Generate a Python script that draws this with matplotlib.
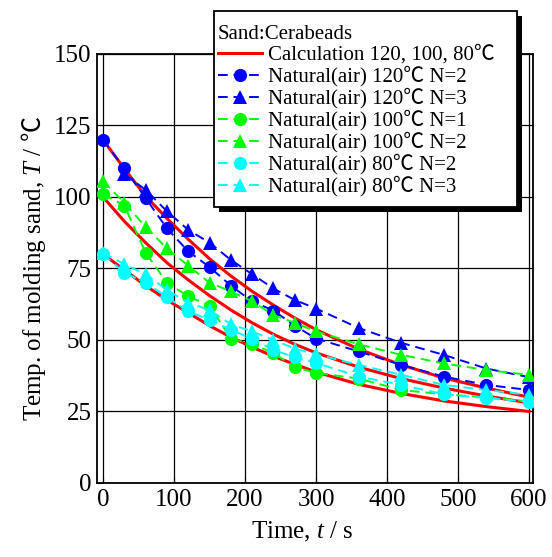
import matplotlib
matplotlib.use('Agg')
import matplotlib.pyplot as plt
from matplotlib.lines import Line2D
from matplotlib.patches import Rectangle

plt.rcParams['font.family'] = ['Liberation Serif', 'Noto Sans CJK JP']
plt.rcParams['mathtext.fontset'] = 'custom'
plt.rcParams['mathtext.rm'] = 'Liberation Serif'
plt.rcParams['mathtext.it'] = 'Liberation Serif:italic'
plt.rcParams['mathtext.sf'] = 'Noto Sans CJK JP'

# time axis (s)
t = [0, 30, 60, 90, 120, 150, 180, 210, 240, 270, 300, 360, 420, 480, 540, 600]
t_b3 = t[1:]

# calculation curves
calc_120 = [120, 109.9, 100.3, 92.5, 85.2, 78.4, 72.4, 67, 62.2, 57.7, 53.6, 46.8, 41.3, 36.7, 33.2, 30]
calc_100 = [100, 91.5, 84, 77, 71, 65.5, 60.5, 56, 52, 48.5, 45.5, 40.5, 36.5, 33.2, 30.4, 28]
calc_80 = [80, 74.5, 69, 64, 59.5, 55, 51, 47.5, 44.3, 41.5, 38.8, 34.5, 31.3, 28.7, 26.7, 25]

# measured, natural (air) cooling
nat_120_n2 = [120, 110, 99.6, 89, 81, 75.5, 69, 63.5, 60.3, 55, 50.5, 46, 41.3, 37.2, 34.3, 32.5]
nat_120_n3 = [108, 102.5, 95, 88.5, 84, 78, 73, 68, 64, 61, 54.2, 49, 44.8, 40, 37]
nat_100_n1 = [101, 97, 80.5, 70, 65.3, 62, 50.5, 48.5, 45.5, 40.5, 38.5, 36.5, 32.5, 31, 30, 28.5]
nat_100_n2 = [105.5, 98, 89.5, 82, 76, 70, 67, 63.5, 58.7, 56, 53, 48.5, 44.8, 41.8, 39.5, 37.8]
nat_80_n2 = [80, 73.5, 70, 65, 60, 57, 53.5, 50.5, 46.5, 44, 42, 37.2, 34.3, 31, 29.7, 28.4]
nat_80_n3 = [80.5, 76.5, 73, 67.5, 63, 60.5, 55.5, 53, 50, 47, 45, 41.3, 37.8, 34.3, 32.5, 30.8]

labels = ['Calculation 120, 100, 80\u2103',
          'Natural(air) 120\u2103 N=2', 'Natural(air) 120\u2103 N=3',
          'Natural(air) 100\u2103 N=1', 'Natural(air) 100\u2103 N=2',
          'Natural(air) 80\u2103 N=2', 'Natural(air) 80\u2103 N=3']

W, H = 552, 557
fig = plt.figure(figsize=(W / 100, H / 100), dpi=100)
ax = fig.add_axes([0.1757, 0.1329, 0.7899, 0.7702])

dash = (0, (5, 3))
red = '#ff0000'
blue = '#0000ff'
green = '#00ff00'
cyan = '#00ffff'
ms = 9.5

for y in (calc_120, calc_100, calc_80):
    ax.plot(t, y, color=red, lw=2.2, zorder=2)

# triangles drawn under circles of the same colour
series = [
    (t_b3, nat_120_n3, blue, '^'), (t, nat_120_n2, blue, 'o'),
    (t, nat_100_n2, green, '^'), (t, nat_100_n1, green, 'o'),
    (t, nat_80_n3, cyan, '^'), (t, nat_80_n2, cyan, 'o'),
]
for x, y, c, m in series:
    ax.plot(x, y, color=c, ls=dash, lw=1.4, marker=m, ms=ms if m == 'o' else ms + 0.8,
            mec=c, mew=0, zorder=3)

ax.set_xlim(-8.5, 605.6)
ax.set_ylim(0, 150)
ax.set_xticks(range(0, 601, 100))
ax.set_yticks(range(0, 151, 25))
ax.grid(True, color='black', lw=0.9)
ax.set_axisbelow(True)
ax.tick_params(direction='in', labelsize=18, length=4, pad=4)
for s in ax.spines.values():
    s.set_linewidth(1.3)

ax.set_xlabel('Time, $t$ / s', fontsize=18, labelpad=2)
ax.set_ylabel('Temp. of molding sand, $T$ / $\\mathsf{\u2103}$', fontsize=18, labelpad=4)
ax.xaxis.set_label_coords(0.47, -0.085)

handles = [Line2D([], [], color=red, lw=2.2)]
for c in (blue, green, cyan):
    for m in ('o', '^'):
        handles.append(Line2D([], [], color=c, ls=dash, lw=1.4, marker=m,
                              ms=ms if m == 'o' else ms + 0.8, mew=0))

# legend box (white with black border and solid drop shadow), drawn by hand
bx0, by0, bx1, by1 = 214, 11, 517, 207
ax.add_patch(Rectangle((bx0 / W + 5 / W, 1 - by1 / H - 5 / H), (bx1 - bx0) / W, (by1 - by0) / H,
                       transform=fig.transFigure, facecolor='black', edgecolor='none',
                       clip_on=False, zorder=8))
ax.add_patch(Rectangle((bx0 / W, 1 - by1 / H), (bx1 - bx0) / W, (by1 - by0) / H,
                       transform=fig.transFigure, facecolor='white', edgecolor='black',
                       lw=1.3, clip_on=False, zorder=9))

leg = ax.legend(handles, labels, title='Sand:Cerabeads', loc='upper left',
                bbox_to_anchor=(218 / W, 1 - 25 / H), bbox_transform=fig.transFigure,
                borderaxespad=0, borderpad=0, fontsize=15, title_fontsize=15,
                alignment='left', frameon=False, labelspacing=0.06,
                handlelength=2.1, handletextpad=0.3, numpoints=1)
leg.set_zorder(10)

fig.savefig('out.png', dpi=100)
